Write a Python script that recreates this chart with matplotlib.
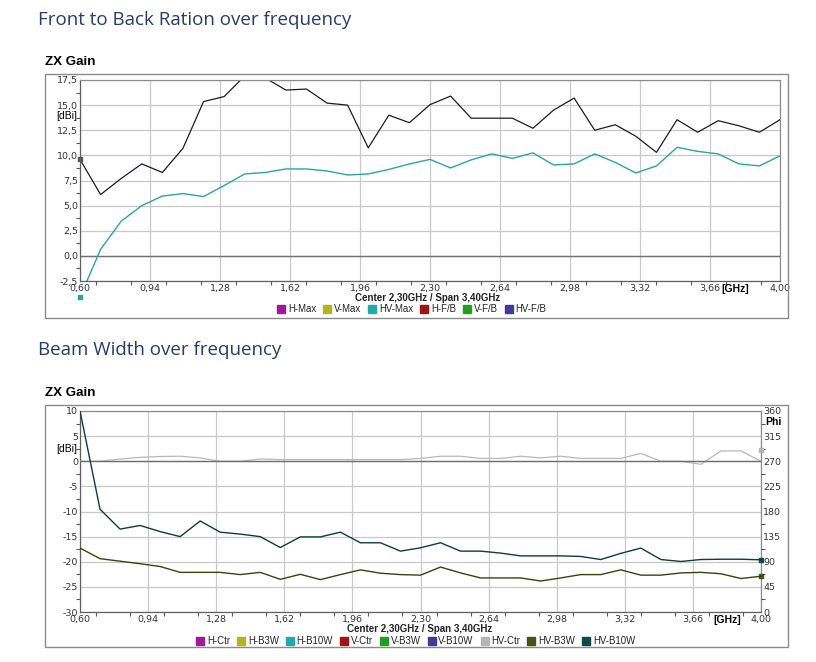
import numpy as np
import matplotlib
matplotlib.use("Agg")
import matplotlib.pyplot as plt
from matplotlib.patches import Rectangle
from matplotlib.lines import Line2D
from matplotlib.ticker import FuncFormatter, MultipleLocator

# sweep frequencies [GHz]
freq = np.linspace(0.6, 4.0, 35)

# front to back chart [dBi]
hv_fb = [9.6, 6.1, 7.7, 9.15, 8.3, 10.7, 15.35, 15.85, 17.9, 17.7, 16.5, 16.6,
         15.2, 15.0, 10.75, 14.0, 13.25, 15.05, 15.9, 13.7, 13.7, 13.7, 12.7,
         14.5, 15.7, 12.5, 13.05, 11.9, 10.3, 13.55, 12.3, 13.45, 12.95, 12.3, 13.55]
hv_max = [-4.1, 0.65, 3.45, 5.0, 5.95, 6.2, 5.9, 7.0, 8.15, 8.3, 8.65, 8.65,
          8.45, 8.05, 8.15, 8.6, 9.15, 9.6, 8.75, 9.55, 10.15, 9.7, 10.25,
          9.05, 9.15, 10.15, 9.3, 8.25, 8.95, 10.8, 10.4, 10.15, 9.15, 8.95, 9.95]

# beam width chart [Phi, degrees]
hv_b10w = [360, 184, 148.5, 155, 144, 135, 163, 143, 139.5, 135, 115.5, 134.5,
           134.5, 143, 124, 124, 109, 115, 124, 109, 109, 105.5, 100.5, 100.5,
           100.5, 99.5, 94, 105, 114.5, 94, 90.5, 94, 94.5, 94.5, 93.5]
hv_b3w = [114.5, 95.5, 91, 86.5, 81.5, 71, 71, 71, 67, 71, 58.5, 67.5, 58, 67,
          75.5, 69.5, 67, 66, 80.5, 70, 61, 61, 61, 55.5, 61, 67, 67, 75.5, 66,
          66, 70, 71, 68.5, 60, 64]
hv_ctr = [270, 270, 274, 277, 278.5, 279, 276, 270, 270, 274, 273, 273, 273,
          273, 273, 273, 273, 275, 279, 279, 275, 275, 279, 276, 279, 275, 275,
          275, 284, 270, 270, 264.5, 288.5, 288.5, 270]
hv_ctr_marker = 290

fb_labels = ["H-Max", "V-Max", "HV-Max", "H-F/B", "V-F/B", "HV-F/B"]
fb_colors = ["#a0189c", "#b4b41e", "#22aaaa", "#a01414", "#1ea01e", "#3c3c96"]
bw_labels = ["H-Ctr", "H-B3W", "H-B10W", "V-Ctr", "V-B3W", "V-B10W",
             "HV-Ctr", "HV-B3W", "HV-B10W"]
bw_colors = ["#a0189c", "#b4b41e", "#22aaaa", "#a01414", "#1ea01e", "#3c3c96",
             "#b4b4b4", "#4a5212", "#0f4a48"]

W, H = 816, 662
plt.rcParams['font.family'] = ['Liberation Sans', 'DejaVu Sans']
fig = plt.figure(figsize=(W / 100, H / 100), dpi=100)

TICK_FONT = dict(family="DejaVu Sans", size=6.8)


def fx(px):
    return px / W


def fy(py):
    return 1 - py / H


def comma(fmt):
    return FuncFormatter(lambda v, p: (fmt % v).replace(".", ","))


def tick_style(ax):
    ax.tick_params(which="both", colors="#555555", labelcolor="#333333",
                   length=3, width=0.8, pad=1.5)
    ax.tick_params(which="major", length=0)
    ax.tick_params(axis="x", which="major", pad=2.5)
    for lab in ax.get_xticklabels() + ax.get_yticklabels():
        lab.set_fontfamily(TICK_FONT["family"])
        lab.set_fontsize(TICK_FONT["size"])


def style_axis(ax):
    ax.set_xlim(0.6, 4.0)
    ax.set_xticks(np.linspace(0.6, 4.0, 11))
    ax.xaxis.set_minor_locator(MultipleLocator(0.17))
    ax.xaxis.set_major_formatter(comma("%.2f"))
    ax.grid(True, which="major", color="#c8c8c8", lw=0.9)
    for s in ax.spines.values():
        s.set_color("#8c8c8c")
        s.set_linewidth(0.9)
    ax.spines["left"].set_color("#606060")
    ax.spines["bottom"].set_color("#606060")
    ax.set_axisbelow(True)


def outer_box(x0, y0, x1, y1):
    fig.add_artist(Rectangle((fx(x0), fy(y1)), fx(x1) - fx(x0), fy(y0) - fy(y1),
                             transform=fig.transFigure, fill=False,
                             ec="#8a8a8a", lw=1.0))


def legend(labels, colors, cx, cy, spacing):
    handles = [Line2D([], [], ls="", marker="s", ms=6.3, mfc=c, mec=c)
               for c in colors]
    fig.legend(handles, labels, loc="center", bbox_to_anchor=(fx(cx), fy(cy)),
               ncol=len(labels), frameon=False, fontsize=6.9,
               handlelength=0.7, handletextpad=0.35, columnspacing=spacing,
               borderpad=0, labelcolor="#222222")


heading = dict(family=["Open Sans", "DejaVu Sans"], fontsize=13.5,
               color="#263c6c", va="center")

# ---------- Front to back ----------
fig.text(fx(38), fy(20), "Front to Back Ration over frequency", **heading)
fig.text(fx(45), fy(62), "ZX Gain", fontsize=9.6, fontweight="bold", va="center")
outer_box(45, 74, 788, 318)

ax1 = fig.add_axes([fx(80), fy(281), fx(780) - fx(80), fy(80) - fy(281)])
style_axis(ax1)
ax1.set_ylim(-2.5, 17.5)
ax1.set_yticks(np.arange(-2.5, 17.6, 2.5))
ax1.yaxis.set_minor_locator(MultipleLocator(1.25))
ax1.yaxis.set_major_formatter(comma("%.1f"))
tick_style(ax1)
ax1.axhline(0, color="#707070", lw=1.0, zorder=1.5)
ax1.plot(freq, hv_max, color="#2aa6a0", lw=1.0)
ax1.plot(freq, hv_fb, color="#1c1c28", lw=0.9)
ax1.plot(freq[0], hv_fb[0], "s", ms=3.5, color="#4a4a92", clip_on=False)
ax1.plot(freq[0], hv_max[0], "s", ms=3.5, color="#22a896", clip_on=False)

fig.text(fx(77), fy(116), "[dBi]", fontsize=7.5, ha="right", va="center")
fig.text(fx(735), fy(289), "[GHz]", fontsize=7.5, fontweight="bold",
         ha="center", va="center")
fig.text(fx(428), fy(298.5), "Center 2,30GHz / Span 3,40GHz", fontsize=7,
         fontweight="bold", ha="center", va="center", color="#222222")
legend(fb_labels, fb_colors, 412, 309, 0.8)

# ---------- Beam width ----------
fig.text(fx(38), fy(350), "Beam Width over frequency", **heading)
fig.text(fx(45), fy(393), "ZX Gain", fontsize=9.6, fontweight="bold", va="center")
outer_box(45, 405, 788, 647)

ax2 = fig.add_axes([fx(80), fy(612), fx(761) - fx(80), fy(411) - fy(612)])
style_axis(ax2)
ax2.set_ylim(-30, 10)
ax2.set_yticks(np.arange(-30, 11, 5))
ax2.yaxis.set_minor_locator(MultipleLocator(2.5))
ax2.yaxis.set_major_formatter(comma("%d"))
tick_style(ax2)

ax3 = ax2.twinx()
ax3.set_ylim(0, 360)
ax3.set_yticks(np.arange(0, 361, 45))
ax3.yaxis.set_minor_locator(MultipleLocator(22.5))
tick_style(ax3)
for s in ax3.spines.values():
    s.set_visible(False)

ax3.plot(freq, hv_ctr, color="#b8b8b8", lw=0.9, zorder=2)
ax3.axhline(270, color="#707070", lw=1.0, zorder=2.5)
ax3.plot(freq, hv_b3w, color="#3a4210", lw=1.0, zorder=3)
ax3.plot(freq, hv_b10w, color="#0e3c3c", lw=1.0, zorder=3)
ax3.plot(freq[-1], hv_b10w[-1], "s", ms=3.5, color="#0f4a48", clip_on=False)
ax3.plot(freq[-1], hv_b3w[-1], "s", ms=3.5, color="#4a5212", clip_on=False)
ax3.plot(freq[-1], hv_ctr_marker, "s", ms=3.5, color="#b4b4b4", clip_on=False)

fig.text(fx(77), fy(449), "[dBi]", fontsize=7.5, ha="right", va="center")
fig.text(fx(765), fy(422), "Phi", fontsize=7.5, fontweight="bold",
         ha="left", va="center")
fig.text(fx(727), fy(620), "[GHz]", fontsize=7.5, fontweight="bold",
         ha="center", va="center")
fig.text(fx(420), fy(629), "Center 2,30GHz / Span 3,40GHz", fontsize=7,
         fontweight="bold", ha="center", va="center", color="#222222")
legend(bw_labels, bw_colors, 416, 641, 0.8)

fig.savefig("out.png", dpi=100, facecolor="white")
